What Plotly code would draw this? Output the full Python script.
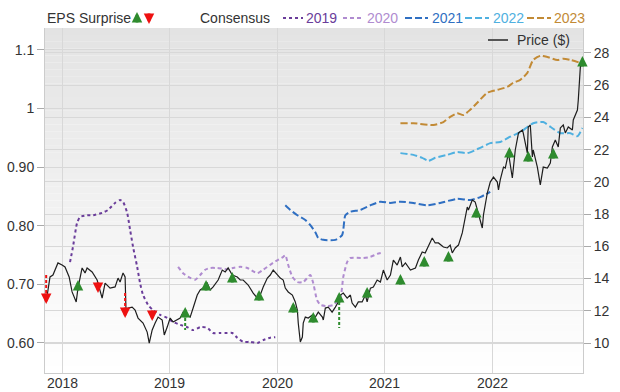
import plotly.graph_objects as go

# ---------------- data ----------------
price_dates = [
    "2017-11-08", "2017-11-21", "2017-12-01", "2017-12-18", "2018-01-01", "2018-01-11", "2018-01-25",
    "2018-02-04", "2018-02-18", "2018-02-24", "2018-03-10", "2018-03-20", "2018-03-27", "2018-04-13",
    "2018-04-30", "2018-05-07", "2018-05-17", "2018-05-27", "2018-06-13", "2018-06-30", "2018-07-10",
    "2018-07-17", "2018-07-27", "2018-08-03", "2018-08-06", "2018-08-13", "2018-08-27", "2018-09-06",
    "2018-09-16", "2018-10-03", "2018-10-17", "2018-10-24", "2018-11-03", "2018-11-13", "2018-11-23",
    "2018-12-07", "2018-12-14", "2018-12-24", "2019-01-03", "2019-01-13", "2019-01-27", "2019-02-06",
    "2019-02-16", "2019-03-02", "2019-03-12", "2019-03-22", "2019-04-05", "2019-04-15", "2019-04-25",
    "2019-05-09", "2019-05-19", "2019-05-29", "2019-06-15", "2019-06-29", "2019-07-09", "2019-07-19",
    "2019-08-02", "2019-08-19", "2019-08-29", "2019-09-08", "2019-09-25", "2019-10-12", "2019-10-26",
    "2019-11-05", "2019-11-15", "2019-11-29", "2019-12-09", "2019-12-19", "2020-01-02", "2020-01-12",
    "2020-01-22", "2020-01-29", "2020-02-08", "2020-02-22", "2020-03-03", "2020-03-10", "2020-03-13",
    "2020-03-20", "2020-03-27", "2020-03-30", "2020-04-06", "2020-04-16", "2020-04-30", "2020-05-10",
    "2020-05-20", "2020-06-03", "2020-06-06", "2020-06-13", "2020-06-23", "2020-07-06", "2020-07-17",
    "2020-07-27", "2020-08-03", "2020-08-13", "2020-08-26", "2020-09-06", "2020-09-12", "2020-09-23",
    "2020-10-03", "2020-10-16", "2020-10-27", "2020-11-02", "2020-11-13", "2020-11-23", "2020-12-06",
    "2020-12-17", "2020-12-27", "2021-01-09", "2021-01-20", "2021-01-30", "2021-02-12", "2021-02-23",
    "2021-03-01", "2021-03-12", "2021-03-29", "2021-04-15", "2021-04-25", "2021-05-08", "2021-05-18",
    "2021-06-04", "2021-06-11", "2021-06-21", "2021-07-02", "2021-07-19", "2021-08-01", "2021-08-11",
    "2021-08-18", "2021-08-28", "2021-09-08", "2021-09-21", "2021-10-01", "2021-10-08", "2021-10-12",
    "2021-10-25", "2021-11-04", "2021-11-15", "2021-11-28", "2021-12-02", "2021-12-15", "2021-12-25",
    "2022-01-05", "2022-01-18", "2022-01-22", "2022-01-28", "2022-02-08", "2022-02-14", "2022-02-25",
    "2022-03-10", "2022-03-20", "2022-03-31", "2022-04-13", "2022-04-16", "2022-04-30", "2022-05-03",
    "2022-05-10", "2022-05-17", "2022-05-20", "2022-06-03", "2022-06-13", "2022-06-23", "2022-07-07",
    "2022-07-17", "2022-07-24", "2022-08-03", "2022-08-13", "2022-08-20", "2022-08-30", "2022-09-06",
    "2022-09-16", "2022-09-30", "2022-10-03", "2022-10-17", "2022-10-20", "2022-10-27", "2022-11-03",
]
price_values = [
    12.55, 14.10, 14.22, 14.97, 14.84, 14.72, 14.10,
    13.17, 12.55, 13.41, 14.66, 14.35, 14.66, 14.41,
    13.91, 13.48, 12.79, 13.72, 13.41, 13.48, 14.03,
    13.79, 14.35, 14.10, 12.05, 12.17, 12.23, 12.05,
    11.55, 11.24, 10.68, 10.00, 10.81, 11.24, 11.61,
    11.43, 10.50, 10.99, 11.55, 11.30, 11.43, 11.55,
    11.92, 11.74, 11.61, 12.17, 12.98, 13.29, 13.41,
    13.72, 13.29, 13.48, 13.91, 14.53, 14.41, 14.66,
    14.22, 14.10, 13.91, 13.91, 13.60, 13.10, 12.79,
    12.98, 13.48, 14.03, 14.22, 14.53, 14.22, 14.03,
    13.91, 13.41, 13.17, 12.98, 12.55, 12.05, 11.24,
    10.06, 10.37, 11.24, 11.61, 11.55, 11.74, 11.61,
    11.92, 11.61, 11.43, 12.17, 12.23, 11.92, 12.23,
    12.55, 12.98, 13.10, 12.79, 12.98, 12.48, 12.23,
    12.55, 12.55, 12.98, 12.55, 13.41, 13.48, 13.91,
    13.79, 14.53, 13.91, 14.22, 15.15, 14.84, 15.34,
    14.72, 14.97, 14.53, 14.66, 15.15, 15.65, 15.59,
    16.27, 16.52, 16.21, 16.21, 15.96, 15.90, 16.08,
    15.59, 15.90, 16.08, 16.83, 17.82, 18.44, 18.26,
    18.88, 18.75, 18.07, 17.14, 17.95, 19.31, 19.99,
    20.30, 19.99, 19.50, 20.12, 20.92, 20.86, 21.79,
    20.24, 21.98, 23.04, 23.22, 23.04, 21.79, 23.41,
    23.53, 21.55, 21.98, 20.92, 19.81, 20.92, 20.86,
    21.17, 22.17, 22.60, 22.17, 23.35, 23.53, 23.04,
    23.41, 23.22, 23.84, 24.46, 25.08, 27.13, 27.44,
]

cons2019_dates = [
    "2018-01-28", "2018-02-07", "2018-02-21", "2018-03-03", "2018-03-27", "2018-04-16", "2018-05-17",
    "2018-06-06", "2018-06-30", "2018-07-17", "2018-07-27", "2018-08-10", "2018-08-20", "2018-08-30",
    "2018-09-13", "2018-09-23", "2018-10-03", "2018-10-20", "2018-11-06", "2018-11-30", "2018-12-24",
    "2019-01-13", "2019-02-06", "2019-03-02", "2019-03-22", "2019-04-15", "2019-05-09", "2019-05-29",
    "2019-06-22", "2019-07-16", "2019-08-02", "2019-08-19", "2019-09-08", "2019-10-02", "2019-10-26",
    "2019-11-15", "2019-12-09", "2019-12-26",
]
cons2019_values = [
    0.738, 0.764, 0.805, 0.815, 0.818, 0.818, 0.822,
    0.827, 0.839, 0.844, 0.841, 0.822, 0.793, 0.764,
    0.730, 0.702, 0.682, 0.665, 0.656, 0.648, 0.643,
    0.636, 0.631, 0.627, 0.622, 0.627, 0.626, 0.617,
    0.617, 0.617, 0.617, 0.609, 0.602, 0.602, 0.600,
    0.605, 0.609, 0.610,
]

cons2020_dates = [
    "2019-01-30", "2019-02-16", "2019-03-12", "2019-03-29", "2019-04-15", "2019-05-02", "2019-05-19",
    "2019-06-12", "2019-07-16", "2019-08-05", "2019-08-29", "2019-09-22", "2019-10-26", "2019-11-15",
    "2019-12-19", "2020-01-22", "2020-01-29", "2020-02-08", "2020-02-22", "2020-03-10", "2020-03-30",
    "2020-04-23", "2020-05-03", "2020-05-16", "2020-05-27", "2020-06-19", "2020-07-10", "2020-08-03",
    "2020-08-13", "2020-08-26", "2020-09-06", "2020-10-20", "2020-11-13", "2020-12-06", "2020-12-23",
]
cons2020_values = [
    0.730, 0.719, 0.711, 0.708, 0.716, 0.725, 0.728,
    0.728, 0.726, 0.728, 0.730, 0.728, 0.719, 0.725,
    0.737, 0.747, 0.750, 0.733, 0.713, 0.704, 0.704,
    0.716, 0.702, 0.673, 0.665, 0.663, 0.665, 0.678,
    0.713, 0.738, 0.745, 0.745, 0.747, 0.752, 0.754,
]

cons2021_dates = [
    "2020-01-29", "2020-02-15", "2020-03-10", "2020-04-06", "2020-04-23", "2020-05-10", "2020-05-20",
    "2020-06-06", "2020-07-17", "2020-08-09", "2020-08-20", "2020-09-06", "2020-10-10", "2020-11-13",
    "2020-12-17", "2021-01-20", "2021-02-23", "2021-04-08", "2021-05-25", "2021-07-08", "2021-09-04",
    "2021-10-18", "2021-11-21", "2021-12-25",
]
cons2021_values = [
    0.835, 0.827, 0.818, 0.810, 0.801, 0.789, 0.779,
    0.776, 0.776, 0.784, 0.818, 0.824, 0.827, 0.835,
    0.841, 0.839, 0.841, 0.839, 0.835, 0.839, 0.846,
    0.844, 0.849, 0.858,
]

cons2022_dates = [
    "2021-02-23", "2021-04-08", "2021-05-08", "2021-05-29", "2021-06-21", "2021-08-01", "2021-09-04",
    "2021-10-08", "2021-11-21", "2021-12-25", "2022-01-28", "2022-03-03", "2022-04-06", "2022-05-20",
    "2022-06-23", "2022-07-17", "2022-08-20", "2022-09-23", "2022-10-17", "2022-11-03",
]
cons2022_values = [
    0.924, 0.921, 0.916, 0.911, 0.916, 0.921, 0.926,
    0.924, 0.933, 0.941, 0.943, 0.952, 0.960, 0.975,
    0.977, 0.969, 0.958, 0.958, 0.953, 0.967,
]

cons2023_dates = [
    "2021-02-23", "2021-04-08", "2021-06-15", "2021-07-19", "2021-08-11", "2021-09-04", "2021-09-25",
    "2021-10-18", "2021-11-11", "2021-12-15", "2022-01-18", "2022-02-21", "2022-03-13", "2022-04-06",
    "2022-04-30", "2022-05-20", "2022-06-13", "2022-07-07", "2022-08-10", "2022-08-30", "2022-09-23",
    "2022-10-27",
]
cons2023_values = [
    0.975, 0.975, 0.972, 0.977, 0.986, 0.992, 0.989,
    0.998, 1.010, 1.027, 1.032, 1.037, 1.044, 1.049,
    1.061, 1.083, 1.090, 1.088, 1.083, 1.085, 1.083,
    1.078,
]

# EPS surprise markers (placed on price scale)
surprise_dates = [
    "2017-11-08", "2018-02-24", "2018-05-03", "2018-08-03", "2018-11-03", "2019-02-23", "2019-05-05",
    "2019-08-02", "2019-11-01", "2020-02-25", "2020-05-03", "2020-07-30", "2020-11-02", "2021-02-23",
    "2021-05-15", "2021-08-05", "2021-11-08", "2022-02-28", "2022-05-03", "2022-07-27", "2022-11-03",
]
surprise_prices = [
    12.79, 13.54, 13.48, 11.92, 11.74, 11.86, 13.54,
    14.03, 12.92, 12.17, 11.55, 12.79, 13.10, 13.91,
    15.03, 15.34, 18.07, 21.79, 21.55, 21.73, 27.44,
]
surprise_dirs = [
    "down", "up", "down", "down", "down", "up", "up",
    "up", "up", "up", "up", "up", "up", "up",
    "up", "up", "up", "up", "up", "up", "up",
]
# dashed connector segments (date, from price, to price)
gap_dates = ["2017-11-08", "2018-08-03", "2019-02-23", "2020-07-30"]
gap_from = [14.22, 13.10, 11.86, 12.55]
gap_to = [12.79, 11.92, 10.81, 10.93]
gap_dirs = ["down", "down", "up", "up"]

year_ticks = ["2018-01-01", "2019-01-01", "2020-01-01", "2021-01-01", "2022-01-01"]
year_labels = ["2018", "2019", "2020", "2021", "2022"]
eps_ticks = [0.6, 0.7, 0.8, 0.9, 1.0, 1.1]
eps_labels = ["0.60", "0.70", "0.80", "0.90", "1", "1.1"]
price_ticks = [10, 12, 14, 16, 18, 20, 22, 24, 26, 28]

# ---------------- style ----------------
FONT = "Liberation Sans, Arial, Helvetica, sans-serif"
TXT = "#333333"
GRID = "#d8d8d8"
UP = "#2e8b2e"
DOWN = "#ee1111"
C2019 = "#6a3d9a"
C2020 = "#b08cd0"
C2021 = "#2f6fc2"
C2022 = "#4fb0e0"
C2023 = "#c28a35"

fig = go.Figure()

# background gradient inside plot area
n = 50
for i in range(n):
    t = (i + 0.5) / n
    c = int(round(255 - t * (255 - 227)))
    fig.add_shape(type="rect", xref="paper", yref="paper", x0=0, x1=1,
                  y0=i / n, y1=(i + 1) / n, fillcolor=f"rgb({c},{c},{c})",
                  line_width=0, layer="below")

cons = [
    (cons2019_dates, cons2019_values, C2019, "dot", 2),
    (cons2020_dates, cons2020_values, C2020, "4px,3px", 2),
    (cons2021_dates, cons2021_values, C2021, "7px,3px", 2),
    (cons2022_dates, cons2022_values, C2022, "7px,3px", 2),
    (cons2023_dates, cons2023_values, C2023, "7px,3px", 2),
]
for d, v, col, dash, w in cons:
    fig.add_trace(go.Scatter(x=d, y=v, mode="lines", yaxis="y",
                             line=dict(color=col, dash=dash, width=w, shape="spline", smoothing=0.6),
                             showlegend=False, hoverinfo="skip"))

fig.add_trace(go.Scatter(x=price_dates, y=price_values, mode="lines", yaxis="y2",
                         line=dict(color="#1e1e1e", width=1.2),
                         showlegend=False, hoverinfo="skip"))

# dashed gap segments
for dirn, col in (("down", DOWN), ("up", UP)):
    xs, ys = [], []
    for d, a, b, g in zip(gap_dates, gap_from, gap_to, gap_dirs):
        if g == dirn:
            xs += [d, d, None]
            ys += [a, b, None]
    fig.add_trace(go.Scatter(x=xs, y=ys, mode="lines", yaxis="y2",
                             line=dict(color=col, dash="3px,2px", width=2),
                             showlegend=False, hoverinfo="skip"))

AW, AS, AL = 2.8, 0.75, 12
annotations = []
for d, p, dirn in zip(surprise_dates, surprise_prices, surprise_dirs):
    up = dirn == "up"
    annotations.append(dict(x=d, y=p, xref="x", yref="y2", text="", showarrow=True,
                            arrowhead=2, arrowsize=AS, arrowwidth=AW,
                            arrowcolor=UP if up else DOWN,
                            ax=0, ay=AL if up else -AL, yshift=6 if up else -6))

# x-axis year labels placed on the date axis
for d, lab in zip(year_ticks, year_labels):
    annotations.append(dict(x=d, y=0, xref="x", yref="paper", text=lab, showarrow=False,
                            xanchor="center", yanchor="top", yshift=0,
                            font=dict(size=14, color=TXT, family=FONT)))

# legend (header)
ly = 1.029
def px(xp):
    return (xp - 45) / 538.0

annotations += [
    dict(x=px(45), y=ly, xref="paper", yref="paper", text="EPS Surprise", showarrow=False,
         xanchor="left", yanchor="middle", font=dict(size=14, color=TXT, family=FONT)),
    dict(x=px(137), y=ly, xref="paper", yref="paper", text="", showarrow=True, arrowhead=2,
         arrowwidth=AW, arrowsize=AS, arrowcolor=UP, ax=0, ay=AL, yshift=6),
    dict(x=px(149), y=ly, xref="paper", yref="paper", text="", showarrow=True, arrowhead=2,
         arrowwidth=AW, arrowsize=AS, arrowcolor=DOWN, ax=0, ay=-AL, yshift=-6),
    dict(x=px(198), y=ly, xref="paper", yref="paper", text="Consensus", showarrow=False,
         xanchor="left", yanchor="middle", font=dict(size=14, color=TXT, family=FONT)),
]
leg_items = [("2019", C2019, "dot", 283, 303, 304),
             ("2020", C2020, "4px,3px", 343, 363, 365),
             ("2021", C2021, "7px,3px", 405, 428, 430),
             ("2022", C2022, "7px,3px", 465, 489, 491),
             ("2023", C2023, "7px,3px", 527, 551, 552)]
for lab, col, dash, a, b, tx in leg_items:
    fig.add_shape(type="line", xref="paper", yref="paper", x0=px(a), x1=px(b), y0=ly, y1=ly,
                  line=dict(color=col, dash=dash, width=2))
    annotations.append(dict(x=px(tx), y=ly, xref="paper", yref="paper", text=lab, showarrow=False,
                            xanchor="left", yanchor="middle",
                            font=dict(size=14, color=col, family=FONT)))

pl_y = (373 - 40) / 345.0
fig.add_shape(type="line", xref="paper", yref="paper", x0=px(488), x1=px(508), y0=pl_y, y1=pl_y,
              line=dict(color="#555555", width=2))
annotations.append(dict(x=px(515), y=pl_y, xref="paper", yref="paper", text="Price ($)",
                        showarrow=False, xanchor="left", yanchor="middle",
                        font=dict(size=14, color=TXT, family=FONT)))

fig.update_layout(
    width=620, height=392,
    margin=dict(l=45, r=37, t=28, b=19, pad=0, autoexpand=False),
    paper_bgcolor="white", plot_bgcolor="rgba(0,0,0,0)",
    font=dict(family=FONT, size=14, color=TXT),
    showlegend=False,
    annotations=annotations,
    xaxis=dict(type="date", range=["2017-11-04", "2022-11-05"],
               tickvals=year_ticks, showticklabels=False, automargin=False,
               showgrid=True, gridcolor=GRID, gridwidth=1,
               showline=True, linecolor="#cccccc", linewidth=1, ticks="",
               zeroline=False),
    yaxis=dict(range=[0.5488, 1.1375], tickvals=eps_ticks, ticktext=eps_labels, automargin=False,
               showgrid=True, gridcolor=GRID, gridwidth=1, zeroline=False,
               showline=True, linecolor="#cccccc", linewidth=1,
               ticks="outside", ticklen=7, tickcolor="#aaaaaa",
               tickfont=dict(size=14, color=TXT)),
    yaxis2=dict(range=[8.14, 29.55], tickvals=price_ticks, overlaying="y", side="right",
                automargin=False,
                showgrid=True, gridcolor=GRID, gridwidth=1, zeroline=False,
                showline=True, linecolor="#cccccc", linewidth=1,
                ticks="outside", ticklen=7, tickcolor="#aaaaaa",
                tickfont=dict(size=14, color=TXT)),
)

fig.write_html("out.html", config={"displayModeBar": False},
               post_script="document.body.style.margin='0';document.body.style.padding='0';")
